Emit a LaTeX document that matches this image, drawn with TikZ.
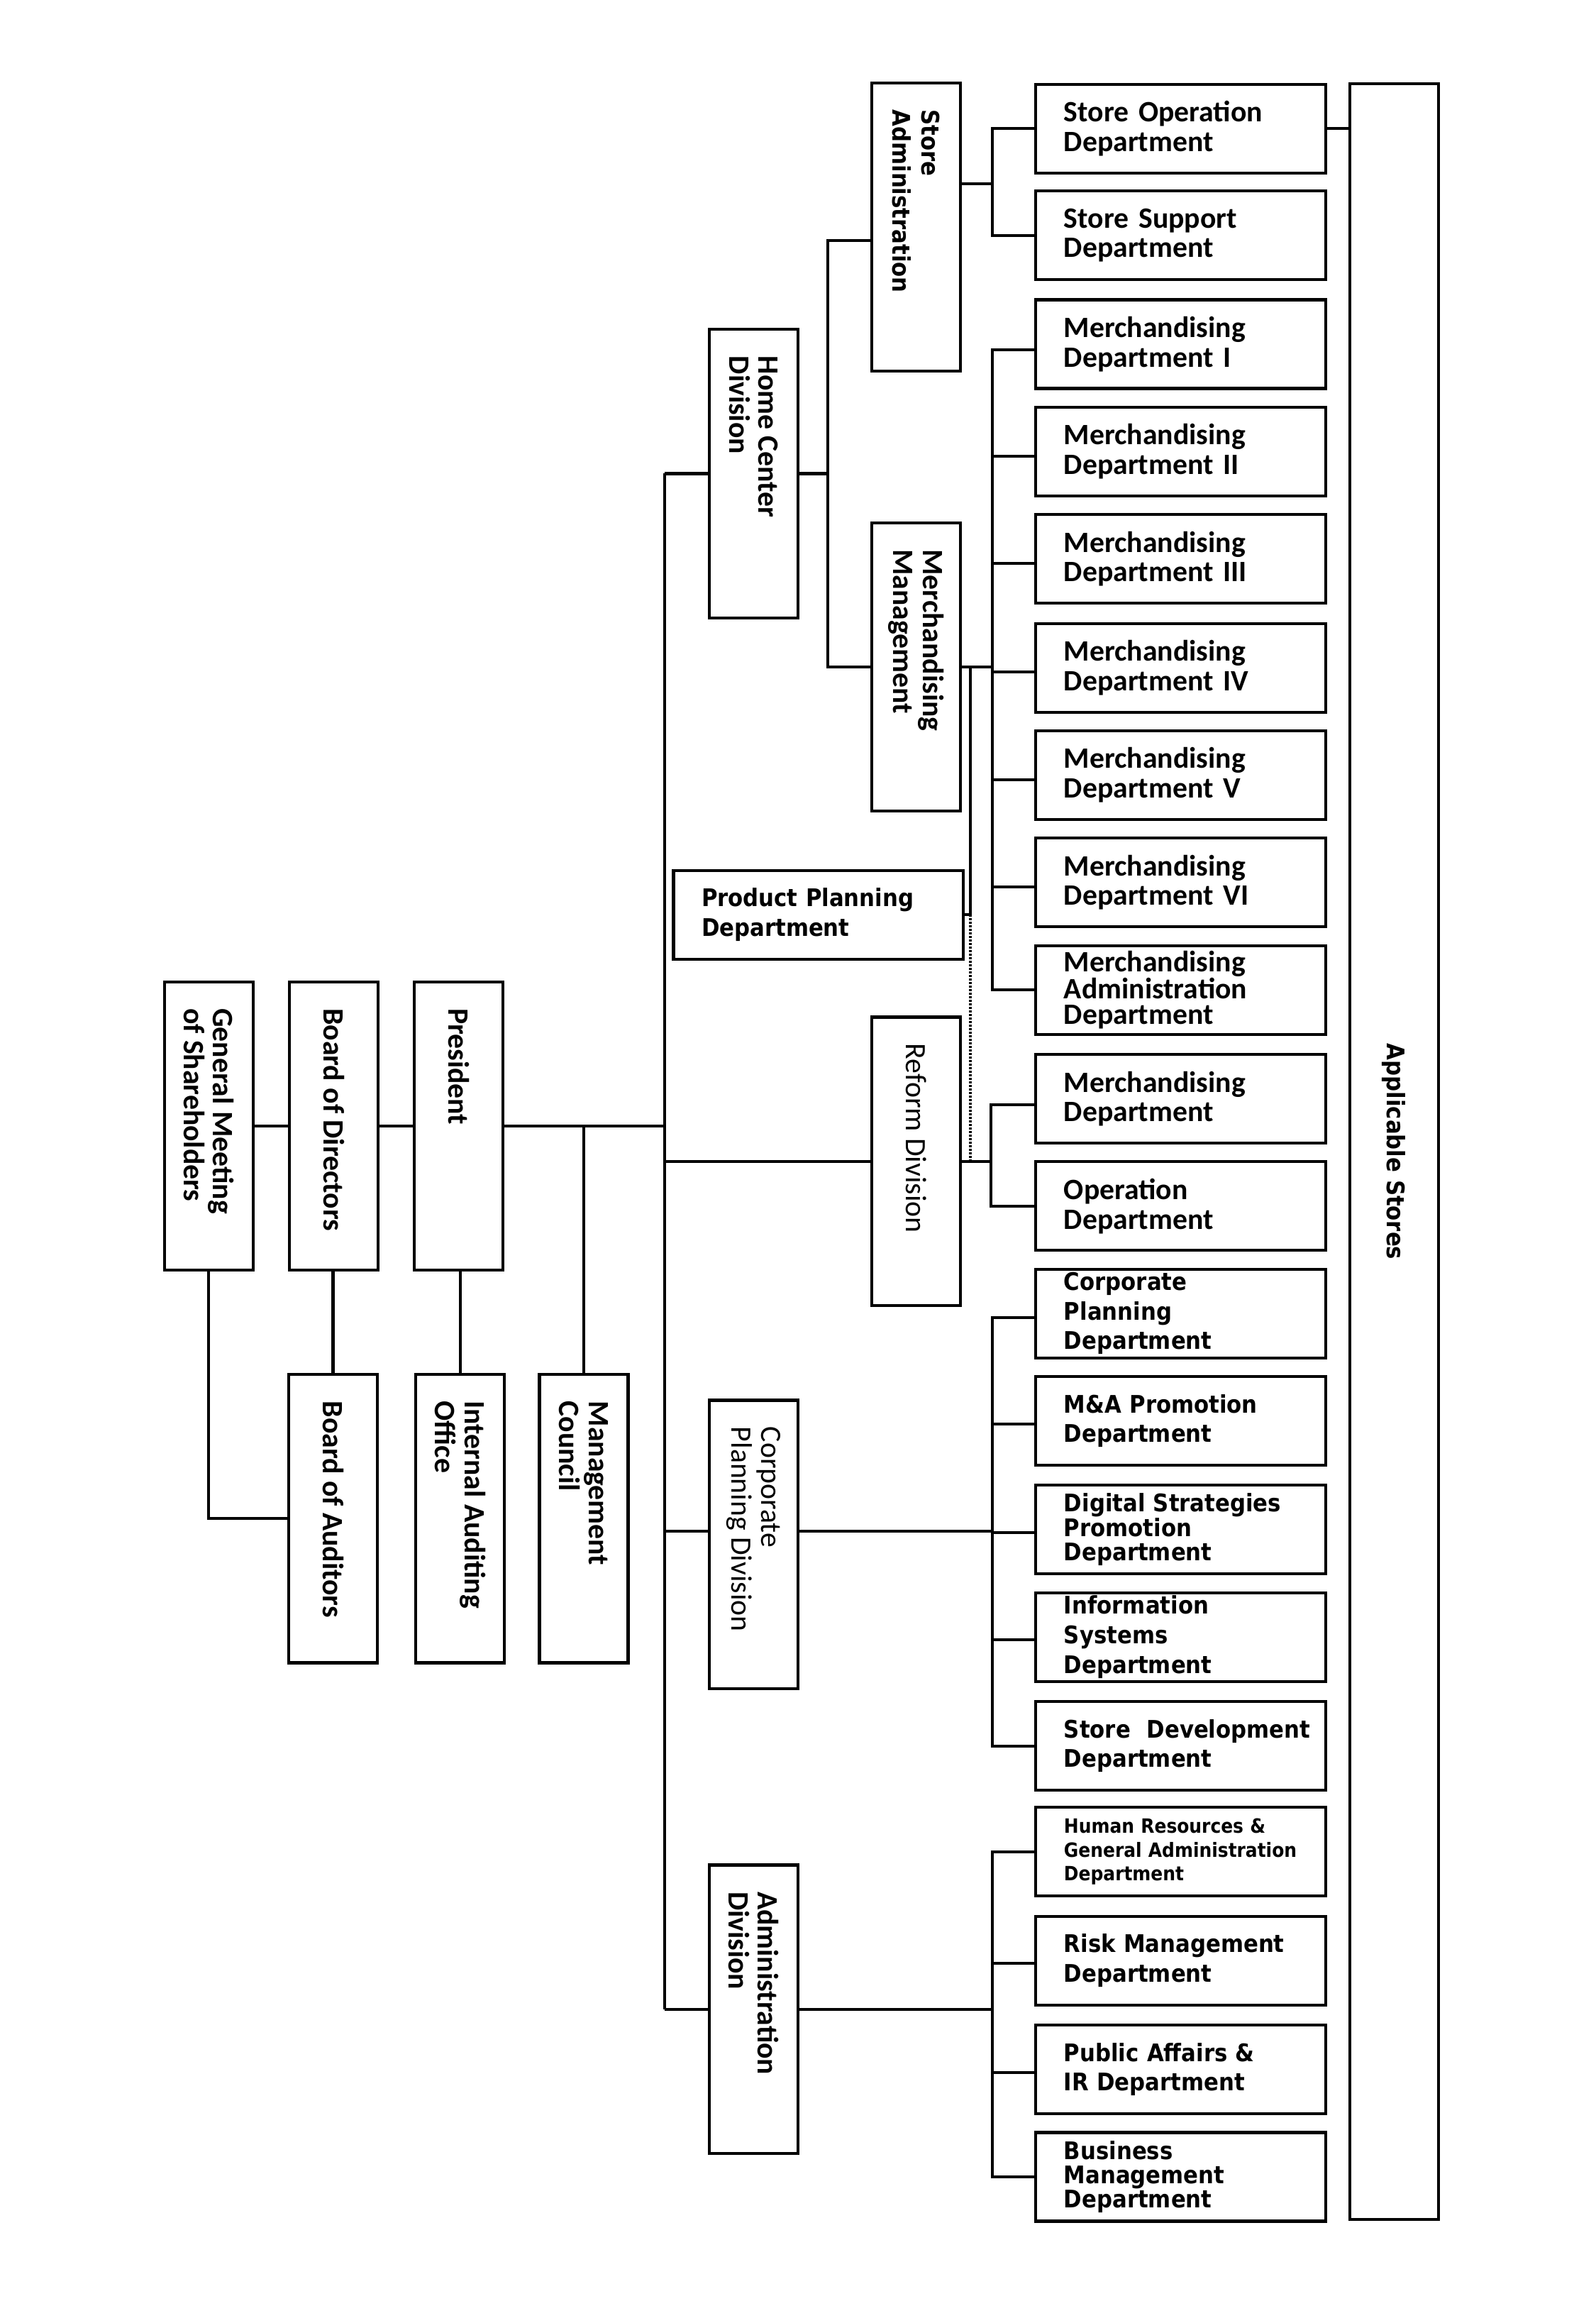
\documentclass[tikz,border=0pt]{standalone}
\usepackage{fontspec}
\setmainfont{Carlito}
\newfontfamily\dvsfont{DejaVu Sans}[FakeStretch=0.9]
\usepackage{graphicx}
\newcommand\vtxt[2][159pt]{\rotatebox{-90}{\parbox{#1}{\raggedright #2}}}
\tikzset{
  bx/.style={draw, line width=2pt},
  vb/.style={bx, minimum width=60pt, minimum height=195pt, inner sep=0pt},
  dp/.style={bx, minimum width=196pt, minimum height=60pt, text width=158pt, align=left, inner xsep=19pt, inner ysep=0pt},
  cal/.style={font=\bfseries\fontsize{20}{20}\selectfont},
  calr/.style={font=\fontsize{20}{20}\selectfont},
  calt/.style={font=\bfseries\fontsize{20}{17}\selectfont},
  dv/.style={font=\dvsfont\bfseries\fontsize{16.4}{20}\selectfont},
  dvt/.style={font=\dvsfont\bfseries\fontsize{16.4}{16.5}\selectfont},
  dvsmall/.style={font=\dvsfont\bfseries\fontsize{13.3}{16}\selectfont},
  ln/.style={line width=2pt},
  dotln/.style={line width=1.8pt, dash pattern=on 1.4pt off 1pt},
}
\begin{document}
\begin{tikzpicture}[x=0.995pt,y=-0.995pt]
\useasboundingbox (0,0) rectangle (1085.43,1567.84);
% left group
\node[vb,cal] (gm) at (142,765.5) {\vtxt{General Meeting\\of Shareholders}};
\node[vb,cal] (bod) at (227,765.5) {\vtxt{Board of Directors}};
\node[vb,cal] (pres) at (312,765.5) {\vtxt{President}};
\node[vb,cal] (boa) at (226.5,1032.5) {\vtxt{Board of Auditors}};
\node[vb,cal] (ia) at (313,1032.5) {\vtxt{Internal Auditing\\Office}};
\node[vb,cal] (mc) at (397,1032.5) {\vtxt{Management\\Council}};
% divisions
\node[vb,cal] (hcd) at (512.5,322) {\vtxt{Home Center\\Division}};
\node[vb,dv] (sa) at (623,154.5) {\vtxt{Store\\Administration}};
\node[vb,cal] (mm) at (623,453.5) {\vtxt{Merchandising\\Management}};
\node[vb,calr] (rd) at (623,789.5) {\vtxt{Reform Division}};
\node[vb,calr] (cpd) at (512.5,1050) {\vtxt{Corporate\\Planning Division}};
\node[vb,cal] (ad) at (512.5,1366) {\vtxt{Administration\\Division}};
\node[dp,dv] (pp) at (556.5,622) {Product Planning\\Department};
\node[bx,dv,minimum width=60pt,minimum height=1445pt,inner sep=0pt] (as) at (948,783) {\rotatebox{-90}{Applicable Stores}};
% departments
\node[dp,cal] (so) at (803,87.5) {Store Operation\\Department};
\node[dp,cal] (ss) at (803,160) {Store Support\\Department};
\node[dp,cal] (m1) at (803,234) {Merchandising\\Department I};
\node[dp,cal] (m2) at (803,307) {Merchandising\\Department II};
\node[dp,cal] (m3) at (803,380) {Merchandising\\Department III};
\node[dp,cal] (m4) at (803,454) {Merchandising\\Department IV};
\node[dp,cal] (m5) at (803,527) {Merchandising\\Department V};
\node[dp,cal] (m6) at (803,600) {Merchandising\\Department VI};
\node[dp,calt] (madm) at (803,673) {Merchandising\\Administration\\Department};
\node[dp,cal] (md) at (803,747) {Merchandising\\Department};
\node[dp,cal] (od) at (803,820) {Operation\\Department};
\node[dp,dv] (cpdept) at (803,893) {Corporate\\Planning\\Department};
\node[dp,dv] (ma) at (803,966) {M\&A Promotion\\Department};
\node[dp,dvt] (ds) at (803,1040) {Digital Strategies\\Promotion\\Department};
\node[dp,dv] (is) at (803,1113) {Information\\Systems\\Department};
\node[dp,dv] (sd) at (803,1187) {\mbox{Store\ \ Development}\\Department};
\node[dp,dvsmall] (hr) at (803,1259) {Human Resources \&\\\mbox{General Administration}\\Department};
\node[dp,dv] (rm) at (803,1333) {\mbox{Risk Management}\\Department};
\node[dp,dv] (pa) at (803,1407) {Public Affairs \&\\IR Department};
\node[dp,dvt] (bm) at (803,1480) {Business\\Management\\Department};
% bus coordinates
\coordinate (tk) at (452,0);
\coordinate (hb) at (563,0);
\coordinate (sb) at (675,0);
\coordinate (pb) at (660,0);
\coordinate (rb) at (674,0);
\coordinate (cpy) at (0,1041);
\coordinate (say) at (0,125);
% left connectors
\draw[ln] (gm.east) -- (bod.west);
\draw[ln] (bod.east) -- (pres.west);
\draw[ln] (pres.east) -- (pres.east -| tk);
\draw[ln] (mc.north) -- (mc.north |- pres.east);
\draw[ln] (ia.north) -- (ia.north |- pres.south);
\draw[ln] (boa.north) -- (boa.north |- bod.south);
\draw[ln] (gm.south) |- (boa.west);
% trunk
\draw[ln] (hcd.west -| tk) -- (ad.west -| tk);
\draw[ln] (hcd.west) -- (hcd.west -| tk);
\draw[ln] (rd.west) -- (rd.west -| tk);
\draw[ln] (cpd.west |- cpy) -- (tk |- cpy);
\draw[ln] (ad.west) -- (ad.west -| tk);
% home center
\draw[ln] (hcd.east) -- (hcd.east -| hb);
\draw[ln] ([yshift=-9pt]sa.west) -| (hb |- mm.west) -- (mm.west);
\draw[ln] (sa.east |- say) -- (sb |- say);
\draw[ln] (so.west) -| (sb |- ss.west) -- (ss.west);
\draw[ln] (so.east) -- (so.east -| as.west);
\draw[ln] (mm.east) -- (mm.east -| sb);
\draw[ln] ([yshift=-4pt]m1.west) -| (sb |- madm.west) -- (madm.west);
\foreach \n in {m2,m3,m4,m5,m6} \draw[ln] ([yshift=-3pt]\n.west) -- ([yshift=-3pt]\n.west -| sb);
\draw[ln] (mm.east -| pb) -- (pb |- pp.east) -- (pp.east);
\draw[dotln] (pb |- pp.east) -- (pb |- rd.east);
% reform
\draw[ln] (rd.east) -- (rd.east -| rb);
\draw[ln] ([yshift=-4pt]md.west) -| (rb |- od.west) -- (od.west);
% corporate planning
\draw[ln] (cpd.east |- cpy) -- (sb |- cpy);
\draw[ln] ([yshift=-3pt]cpdept.west) -| (sb |- sd.west) -- (sd.west);
\foreach \n in {ma,ds,is} \draw[ln] ([yshift=-2pt]\n.west) -- ([yshift=-2pt]\n.west -| sb);
% administration
\draw[ln] (ad.east) -- (ad.east -| sb);
\draw[ln] (hr.west) -| (sb |- bm.west) -- (bm.west);
\foreach \n in {rm,pa} \draw[ln] ([yshift=-2pt]\n.west) -- ([yshift=-2pt]\n.west -| sb);
\end{tikzpicture}
\end{document}
